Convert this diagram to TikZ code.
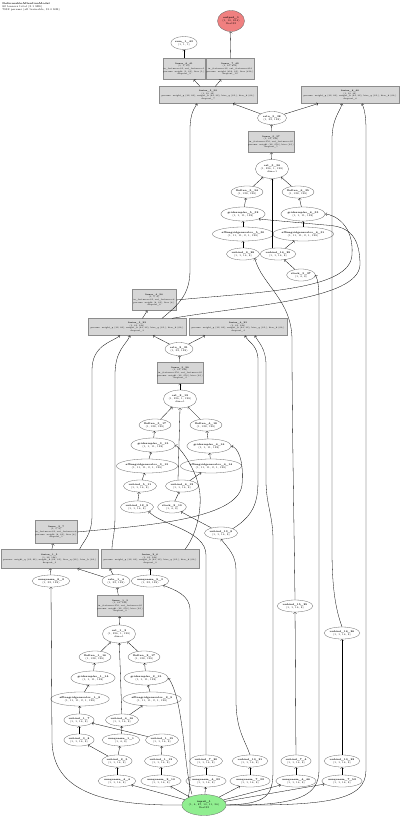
\documentclass[tikz,border=0pt]{standalone}
\usepackage{fontspec}
\usetikzlibrary{shapes.geometric}
\definecolor{boxgray}{HTML}{D6D6D6}
\definecolor{outpink}{HTML}{F08080}
\definecolor{ingreen}{HTML}{90EE90}
\begin{document}
\begin{tikzpicture}[x=1pt,y=-1pt,line width=0.3pt,
  every node/.style={font=\fontsize{2.5}{3}\selectfont,align=center,inner sep=0.3pt},
  op/.style={ellipse,draw=black!60,minimum width=#1,minimum height=12pt},
  op/.default=30pt,
  layer/.style={rectangle,draw=black!45,fill=boxgray,minimum width=#1,minimum height=21pt,font=\fontsize{2.1}{2.7}\selectfont},
  layer/.default=46pt,
  fuse/.style={layer=98pt,minimum height=17pt}]
\useasboundingbox (0,0) rectangle (400,816);
\node[anchor=north west,align=left,font=\fontsize{2.6}{3.1}\selectfont] (title) at (2,2) {\textbf{DeformableAttentionModel}\\82 tensors total (3.1 MB)\\7932 params (all trainable, 31.0 KB)};
% top stage
\node[op=27pt,fill=outpink,minimum height=21pt] (out) at (231,21) {\textbf{output\_1}\\(1, 10, 814)\\float32};
\node[op=26pt,minimum height=13pt] (sum) at (184,43) {\textbf{sum\_1\_43}\\(1, 1, 1)};
\node[layer=41pt] (linB) at (184,69) {\textbf{linear\_6\_41}\\(1, 1, 10)\\in\_features=32, out\_features=1\\params: weight (1, 32), bias (1,)\\dropout\_9};
\node[layer=45pt] (linA) at (230,69) {\textbf{linear\_7\_42}\\(1, 10, 814)\\in\_features=32, out\_features=814\\params: weight (814, 32), bias (814,)\\dropout\_10};
\node[fuse] (fusA3) at (208,95) {\textbf{fusion\_5\_39}\\(1, 10, 32)\\params: weight\_q (32, 64), weight\_k (64, 32), bias\_q (32,), bias\_k (64,)\\dropout\_7};
\node[fuse] (fusB3) at (350,95) {\textbf{fusion\_6\_40}\\(1, 10, 32)\\params: weight\_q (32, 64), weight\_k (64, 32), bias\_q (32,), bias\_k (64,)\\dropout\_8};
\node[op=29pt,minimum height=13pt] (relu3) at (272,118) {\textbf{relu\_3\_38}\\(1, 32, 128)};
\node[layer] (lin3) at (271,142) {\textbf{linear\_5\_37}\\(1, 32, 128)\\in\_features=256, out\_features=32\\params: weight (32, 256), bias (32,)\\dropout\_5};
\node[op=29pt,minimum height=19pt] (cat3) at (272,169) {\textbf{cat\_3\_36}\\(1, 256, 1, 128)\\dim=1};
\node[op] (flat3a) at (247,192) {\textbf{flatten\_5\_34}\\(1, 128, 128)};
\node[op] (flat3b) at (298,192) {\textbf{flatten\_6\_35}\\(1, 128, 128)};
\node[op=40pt,minimum height=14pt] (grid3a) at (243,214) {\textbf{gridsampler\_5\_32}\\(1, 1, 11, 128)};
\node[op=40pt,minimum height=14pt] (grid3b) at (303,214) {\textbf{gridsampler\_6\_33}\\(1, 1, 11, 128)};
\node[op=50pt,minimum height=14pt] (aff3a) at (243,234) {\textbf{affinegridgenerator\_5\_30}\\(1, 11, 11, 2, 1, 128)};
\node[op=50pt,minimum height=14pt] (aff3b) at (303,234) {\textbf{affinegridgenerator\_6\_31}\\(1, 11, 11, 2, 1, 128)};
\node[op] (unb3a) at (243,254) {\textbf{unbind\_9\_28}\\(1, 1, 16, 8)};
\node[op] (unb3b) at (278,254) {\textbf{unbind\_14\_29}\\(1, 1, 16, 8)};
\node[op=27pt] (stack3) at (301,275) {\textbf{stack\_3\_27}\\(1, 4, 8)};
% middle stage
\node[layer=44pt] (linS2) at (154,300) {\textbf{linear\_4\_24}\\(1, 1, 8)\\in\_features=32, out\_features=8\\params: weight (8, 32), bias (8,)\\dropout\_6};
\node[fuse] (fusA2) at (137,327) {\textbf{fusion\_3\_22}\\(1, 32, 128)\\params: weight\_q (32, 64), weight\_k (64, 32), bias\_q (32,), bias\_k (64,)\\dropout\_3};
\node[fuse] (fusB2) at (238,327) {\textbf{fusion\_4\_23}\\(1, 32, 128)\\params: weight\_q (32, 64), weight\_k (64, 32), bias\_q (32,), bias\_k (64,)\\dropout\_4};
\node[op=28pt,minimum height=13pt] (relu2) at (179,349) {\textbf{relu\_2\_21}\\(1, 32, 128)};
\node[layer] (lin2) at (180,373) {\textbf{linear\_3\_20}\\(1, 32, 128)\\in\_features=256, out\_features=32\\params: weight (32, 256), bias (32,)\\dropout\_2};
\node[op=28pt,minimum height=18pt] (cat2) at (180,399) {\textbf{cat\_2\_19}\\(1, 256, 1, 128)\\dim=1};
\node[op] (flat2a) at (155,425) {\textbf{flatten\_3\_17}\\(1, 128, 128)};
\node[op] (flat2b) at (206,425) {\textbf{flatten\_4\_18}\\(1, 128, 128)};
\node[op=40pt,minimum height=14pt] (grid2a) at (153,445) {\textbf{gridsampler\_3\_15}\\(1, 1, 11, 128)};
\node[op=40pt,minimum height=14pt] (grid2b) at (209,446) {\textbf{gridsampler\_4\_16}\\(1, 1, 11, 128)};
\node[op=50pt,minimum height=14pt] (aff2a) at (147,466) {\textbf{affinegridgenerator\_3\_13}\\(1, 11, 11, 2, 1, 128)};
\node[op=50pt,minimum height=14pt] (aff2b) at (211,466) {\textbf{affinegridgenerator\_4\_14}\\(1, 11, 11, 2, 1, 128)};
\node[op] (unb2a) at (140,486) {\textbf{unbind\_5\_11}\\(1, 1, 16, 8)};
\node[op] (unb2b) at (182,486) {\textbf{unbind\_6\_12}\\(1, 1, 16, 8)};
\node[op] (unb2c) at (137,507) {\textbf{unbind\_12\_9}\\(1, 1, 16, 8)};
\node[op=27pt] (stack2) at (172,507) {\textbf{stack\_2\_10}\\(1, 4, 8)};
\node[op=32pt] (unb2d) at (221,533) {\textbf{unbind\_13\_8}\\(1, 1, 16, 8)};
\node[op=32pt] (unbind6) at (295,606) {\textbf{unbind\_15\_25}\\(1, 1, 16, 8)};
\node[op=32pt] (unbind10) at (342,633) {\textbf{unbind\_16\_26}\\(1, 1, 16, 8)};
% bottom stage
\node[layer=41pt,minimum height=23pt] (linS1) at (56,532) {\textbf{linear\_2\_7}\\(1, 1, 8)\\in\_features=32, out\_features=8\\params: weight (8, 32), bias (8,)\\dropout\_1};
\node[fuse,minimum height=19pt,minimum width=97pt] (fusA1) at (49.5,559) {\textbf{fusion\_1\_5}\\(1, 32, 128)\\params: weight\_q (32, 64), weight\_k (64, 32), bias\_q (32,), bias\_k (64,)\\dropout\_0};
\node[fuse,minimum height=19pt] (fusB1) at (150,559) {\textbf{fusion\_2\_6}\\(1, 32, 128)\\params: weight\_q (32, 64), weight\_k (64, 32), bias\_q (32,), bias\_k (64,)\\dropout\_0};
\node[op=28pt] (unsqL) at (51,581) {\textbf{unsqueeze\_8\_2}\\(1, 32, 128)};
\node[op=28pt,minimum height=13pt] (relu1) at (116,581) {\textbf{relu\_1\_4}\\(1, 32, 128)};
\node[op=28pt] (unsqR) at (150,581) {\textbf{unsqueeze\_9\_3}\\(1, 32, 128)};
\node[layer] (lin1) at (120,606) {\textbf{linear\_1\_3}\\(1, 32, 128)\\in\_features=256, out\_features=32\\params: weight (32, 256), bias (32,)\\dropout\_0};
\node[op=30pt,minimum height=18pt] (cat1) at (119,634) {\textbf{cat\_1\_2}\\(1, 256, 1, 128)\\dim=1};
\node[op] (flat1a) at (95,657) {\textbf{flatten\_1\_16}\\(1, 128, 128)};
\node[op] (flat1b) at (144,657) {\textbf{flatten\_2\_17}\\(1, 128, 128)};
\node[op=40pt,minimum height=14pt] (grid1a) at (93,678) {\textbf{gridsampler\_1\_14}\\(1, 1, 11, 128)};
\node[op=40pt,minimum height=14pt] (grid1b) at (146,678) {\textbf{gridsampler\_2\_15}\\(1, 1, 11, 128)};
\node[op=50pt,minimum height=14pt] (aff1a) at (80,699) {\textbf{affinegridgenerator\_1\_8}\\(1, 11, 11, 2, 1, 128)};
\node[op=50pt,minimum height=14pt] (aff1b) at (152,699) {\textbf{affinegridgenerator\_2\_9}\\(1, 11, 11, 2, 1, 128)};
\node[op] (t1) at (79,720) {\textbf{unbind\_1\_7}\\(1, 1, 16, 8)};
\node[op] (t2) at (122,720) {\textbf{unbind\_4\_16}\\(1, 1, 16, 8)};
\node[op] (m1) at (79,740) {\textbf{unbind\_3\_8}\\(1, 1, 16, 8)};
\node[op] (m2) at (121,740) {\textbf{unsqueeze\_1\_1}\\(1, 4, 8)};
\node[op] (m3) at (162,740) {\textbf{unbind\_1\_15}\\(1, 1, 16, 8)};
\node[op] (b1) at (117,761) {\textbf{unbind\_2\_5}\\(1, 1, 16, 8)};
\node[op] (b2) at (161,761) {\textbf{unbind\_1\_12}\\(1, 1, 16, 8)};
\node[op] (b3) at (206,761) {\textbf{unbind\_7\_20}\\(1, 1, 16, 8)};
\node[op] (b4) at (250,761) {\textbf{unbind\_10\_21}\\(1, 1, 16, 8)};
\node[op] (b5) at (296,761) {\textbf{unbind\_7\_4}\\(1, 1, 16, 8)};
\node[op] (b6) at (342,761) {\textbf{unbind\_10\_22}\\(1, 1, 16, 8)};
\node[op] (u1) at (117,781) {\textbf{unsqueeze\_4\_4}\\(1, 1, 16, 8)};
\node[op] (u2) at (161,781) {\textbf{unsqueeze\_2\_10}\\(1, 1, 16, 8)};
\node[op] (u3) at (206,781) {\textbf{unsqueeze\_4\_23}\\(1, 1, 16, 8)};
\node[op] (u4) at (250,781) {\textbf{unsqueeze\_7\_32}\\(1, 1, 16, 8)};
\node[op] (u5) at (296,781) {\textbf{unsqueeze\_4\_46}\\(1, 1, 16, 8)};
\node[op] (u6) at (342,781) {\textbf{unsqueeze\_7\_52}\\(1, 1, 16, 8)};
\node[op=41pt,fill=ingreen,minimum height=21pt] (input) at (204,805) {\textbf{input\_1}\\(1, 4, 87, 10, 11, 56)\\float32};
% top stage edges
\draw [->] (linA) -- (out);
\draw [->] (linB) -- (sum);
\draw [->] (fusA3) -- (linA);
\draw [->] (fusA3) -- (linB);
\draw [->] (relu3) -- ([xshift=25pt]fusA3.south);
\draw [->] (relu3) -- ([xshift=-32pt]fusB3.south);
\draw [->] (lin3) -- (relu3);
\draw [->] (cat3) -- (lin3);
\draw [->] (flat3a) -- (cat3);
\draw [->] (flat3b) -- (cat3);
\draw [->] (grid3a) -- (flat3a);
\draw [->] (grid3b) -- (flat3b);
\draw [->] (aff3a) -- (grid3a);
\draw [->] (aff3b) -- (grid3b);
\draw [->] (unb3a) -- (aff3a);
\draw [->] (unb3b) -- (aff3b);
\draw [->] ([xshift=-6pt]unb3b.north) -- ([xshift=0pt]cat3.south);
\draw [->] (stack3) -- (unb3b);
\draw [->] (unbind6.north) .. controls (294,520) and (292,420) .. (292,340) .. controls (292,300) and (262,285) .. (unb3a.south east);
\draw [->] (unbind10.north) .. controls (336,610) and (332,590) .. (332,550) -- (332,140) .. controls (332,118) and (340,112) .. ([xshift=-8pt]fusB3.south);
\draw [->] (input.east) .. controls (300,806) and (319,795) .. (319,770) -- (319,300) .. controls (319,288) and (318,280) .. (stack3.east);
\draw [->] (input.east) .. controls (330,806) and (366,800) .. (366,770) -- (366,130) .. controls (366,115) and (364,108) .. ([xshift=12pt]fusB3.south);
\draw [->] ([xshift=25pt]fusA2.north) .. controls (178,305) and (190,295) .. (190,270) -- (190,130) .. controls (190,112) and (195,108) .. ([xshift=-11pt]fusA3.south);
\draw [->] (fusA2) -- (linS2);
\draw [->] (linS2.east) .. controls (260,292) and (350,290) .. (352,255) .. controls (354,225) and (335,215) .. (grid3b.east);
\draw [->] ([xshift=35pt]fusA2.north) .. controls (250,305) and (358,300) .. (360,265) .. controls (360,232) and (345,226) .. (325,225) -- (grid3a.south east);
% middle stage edges
\draw [->] (relu2) -- ([xshift=16pt]fusA2.south);
\draw [->] (relu2) -- ([xshift=-33pt]fusB2.south);
\draw [->] (lin2) -- (relu2);
\draw [->] (cat2) -- (lin2);
\draw [->] (flat2a) -- (cat2);
\draw [->] (flat2b) -- (cat2);
\draw [->] (grid2a) -- (flat2a);
\draw [->] (grid2b) -- (flat2b);
\draw [->] (aff2a) -- (grid2a);
\draw [->] (aff2b) -- (grid2b);
\draw [->] (unb2a) -- (aff2a);
\draw [->] (unb2b) -- (aff2b);
\draw [->] ([xshift=-4pt]unb2b.north) -- (cat2.south);
\draw [->] (unb2c) -- (unb2a);
\draw [->] (stack2) -- (unb2b);
\draw [->] (unb2d) -- (stack2);
\draw [->] (unb2d.north east) .. controls (255,515) and (258,500) .. (258,480) -- (258,360) .. controls (258,345) and (248,342) .. ([xshift=7pt]fusB2.south);
\draw [->] (input.east) .. controls (268,804) and (273,795) .. (273,770) -- (273,540) .. controls (273,515) and (266,505) .. (266,480) -- (266,365) .. controls (266,348) and (258,342) .. ([xshift=17pt]fusB2.south);
\draw [->] (b3.north) -- (206,555) .. controls (206,530) and (160,525) .. (unb2c.south east);
\draw [->] (b4.north) .. controls (245,740) and (236,730) .. (236,700) -- (236,570) .. controls (236,555) and (228,548) .. (unb2d.south);
\draw [->] (linS1.east) .. controls (140,526) and (238,520) .. (242,485) .. controls (244,460) and (238,448) .. (grid2b.east);
\draw [->] ([xshift=35pt]fusB1.north) .. controls (200,530) and (202,500) .. (199,488) .. controls (196,470) and (182,450) .. (grid2a.east);
\draw [->] ([xshift=30pt]fusA1.north) .. controls (84,540) and (92,535) .. (92,515) -- (92,370) .. controls (92,345) and (112,342) .. ([xshift=-17pt]fusA2.south);
\draw [->] ([xshift=-38pt]fusB1.north) .. controls (112,540) and (115,535) .. (115,515) -- (115,375) .. controls (115,350) and (126,345) .. ([xshift=-7pt]fusA2.south);
\draw [->] (b5) -- (unbind6);
\draw [->] (b6) -- (unbind10);
% bottom stage edges
\draw [->] (fusA1) -- (linS1);
\draw [->] (unsqL) -- (fusA1);
\draw [->] (unsqR) -- (fusB1);
\draw [->] (relu1) -- ([xshift=28pt]fusA1.south);
\draw [->] (relu1) -- ([xshift=-40pt]fusB1.south);
\draw [->] (lin1) -- (relu1);
\draw [->] (cat1) -- (lin1);
\draw [->] (flat1a) -- (cat1);
\draw [->] (flat1b) -- (cat1);
\draw [->] (grid1a) -- (flat1a);
\draw [->] (grid1b) -- (flat1b);
\draw [->] (aff1a) -- (grid1a);
\draw [->] (aff1b) -- (grid1b);
\draw [->] (t1) -- (aff1a);
\draw [->] (t2) -- (aff1b);
\draw [->] (t2) -- (cat1);
\draw [->] (m1) -- (t1);
\draw [->] (m2) -- (t2);
\draw [->] (m3) -- (t1);
\draw [->] (b1) -- (m1);
\draw [->] (b1) -- (m2);
\draw [->] (b2) -- (m3);
\draw [->] (u1) -- (b1);
\draw [->] (u2) -- (b2);
\draw [->] (u3) -- (b3);
\draw [->] (u4) -- (b4);
\draw [->] (u5) -- (b5);
\draw [->] (u6) -- (b6);
\draw [->] (input) -- (u1);
\draw [->] (input) -- (u2);
\draw [->] (input) -- (u3);
\draw [->] (input) -- (u4);
\draw [->] (input) -- (u5);
\draw [->] (input) -- (u6);
\draw [->] (input.west) .. controls (100,806) and (52,790) .. (52,740) -- (unsqL.south);
\draw [->] (input.north west) .. controls (190,790) and (190,780) .. (190,760) -- (190,610) .. controls (190,595) and (175,590) .. (unsqR.south east);
\draw [->] ([xshift=-12pt]input.north) .. controls (184,770) and (184,700) .. (grid1b.east);
\end{tikzpicture}
\end{document}
